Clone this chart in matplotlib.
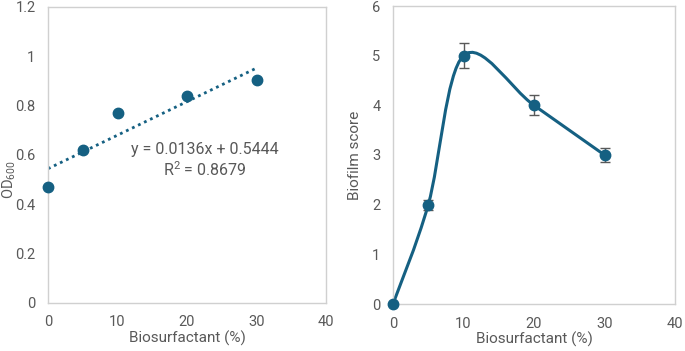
import numpy as np
import matplotlib
matplotlib.use("Agg")
import matplotlib.pyplot as plt
from matplotlib.path import Path
from matplotlib.patches import PathPatch

plt.rcParams['font.family'] = ['Roboto', 'DejaVu Sans']
plt.rcParams['mathtext.fontset'] = 'custom'
plt.rcParams['mathtext.rm'] = 'Roboto'

# data
conc = [0, 5, 10, 20, 30]
od600 = [0.47, 0.62, 0.77, 0.84, 0.905]
biofilm = [0, 2, 5, 4, 3]
biofilm_err = [0, 0.1, 0.25, 0.2, 0.15]

blue = '#156082'
gray = '#595959'
frame = '#d0d0d0'

fig = plt.figure(figsize=(6.85, 3.51), dpi=100)
ax1 = fig.add_axes([48/685, 1-303/351, 278/685, 296/351])
ax2 = fig.add_axes([393/685, 1-304/351, 282/685, 298/351])


def style(ax):
    for s in ax.spines.values():
        s.set_color(frame)
        s.set_linewidth(1.0)
    ax.tick_params(length=0, colors=gray, labelsize=10.5, pad=9)
    ax.set_xlim(0, 40)
    ax.set_xticks([0, 10, 20, 30, 40])
    ax.set_xlabel('Biosurfactant (%)', color=gray, fontsize=11, labelpad=1)


# left: OD600 with linear trend
style(ax1)
ax1.set_ylim(0, 1.2)
ax1.set_yticks([0, 0.2, 0.4, 0.6, 0.8, 1, 1.2])
ax1.set_yticklabels(['0', '0.2', '0.4', '0.6', '0.8', '1', '1.2'])
xs = np.array([0, 30])
ax1.plot(xs, 0.0136 * xs + 0.5444, color=blue, lw=2, ls=(0, (1, 1.4)), zorder=2)
ax1.plot(conc, od600, 'o', color=blue, ms=7.5, zorder=3, clip_on=False)
ax1.text(22.6, 0.578, 'y = 0.0136x + 0.5444\nR$^2$ = 0.8679', ha='center', va='center',
         color=gray, fontsize=11.5, linespacing=1.2)
ax1.set_ylabel('OD$_{600}$', color=gray, fontsize=10.5)
ax1.yaxis.set_label_coords(-0.108, 0.415)

# right: biofilm score, smoothed line like Excel
style(ax2)
ax2.set_ylim(0, 6)
ax2.set_yticks(range(7))
pts = np.column_stack([conc, biofilm]).astype(float)
n = len(pts)
verts = [pts[0]]
codes = [Path.MOVETO]
for i in range(n - 1):
    p0 = pts[i - 1] if i > 0 else pts[i]
    p1, p2 = pts[i], pts[i + 1]
    p3 = pts[i + 2] if i + 2 < n else pts[i + 1]
    c1 = p1 + (p2 - p0) / 6
    c2 = p2 - (p3 - p1) / 6
    verts += [c1, c2, p2]
    codes += [Path.CURVE4] * 3
ax2.add_patch(PathPatch(Path(verts, codes), fill=False, edgecolor=blue, lw=2.2, zorder=2))
ax2.errorbar(conc, biofilm, yerr=biofilm_err, fmt='none', ecolor=gray, elinewidth=1,
             capsize=3.5, capthick=1, zorder=3)
ax2.plot(conc, biofilm, 'o', color=blue, ms=7.5, zorder=4, clip_on=False)
ax2.set_ylabel('Biofilm score', color=gray, fontsize=11)
ax2.yaxis.set_label_coords(-0.11, 0.5)

fig.savefig('out.png', dpi=100)
